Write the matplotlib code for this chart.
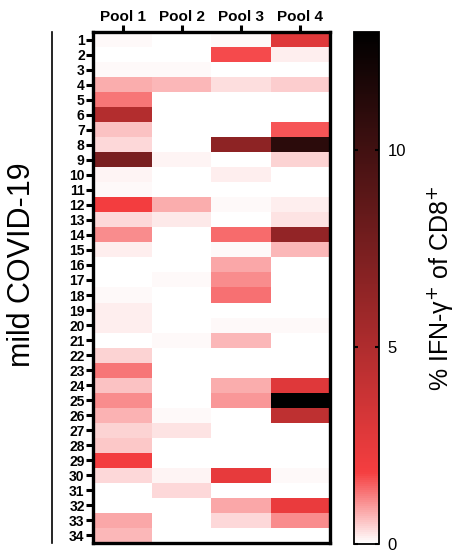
import numpy as np
import matplotlib
matplotlib.use("Agg")
import matplotlib.pyplot as plt
from matplotlib.colors import LinearSegmentedColormap
from matplotlib.lines import Line2D

plt.rcParams['font.family'] = ['Liberation Sans', 'DejaVu Sans']

pools = ["Pool 1", "Pool 2", "Pool 3", "Pool 4"]
donors = [str(i) for i in range(1, 35)]
pool1 = [0.1, 0.0, 0.1, 0.8, 1.3, 4.8, 0.6, 0.4, 7.4, 0.12, 0.1, 1.9, 0.4, 1.1, 0.2, 0.03, 0.0,
         0.07, 0.2, 0.2, 0.0, 0.45, 1.3, 0.6, 1.1, 0.75, 0.45, 0.55, 1.9, 0.4, 0.03, 0.0, 0.85, 0.7]
pool2 = [0.0, 0.0, 0.1, 0.7, 0.03, 0.0, 0.03, 0.02, 0.12, 0.0, 0.03, 0.8, 0.25, 0.02, 0.0, 0.0, 0.07,
         0.0, 0.0, 0.03, 0.07, 0.0, 0.0, 0.02, 0.0, 0.1, 0.3, 0.0, 0.0, 0.12, 0.4, 0.0, 0.03, 0.03]
pool3 = [0.08, 1.7, 0.05, 0.35, 0.0, 0.0, 0.03, 6.5, 0.02, 0.2, 0.05, 0.08, 0.0, 1.4, 0.1, 0.85, 1.1,
         1.35, 0.0, 0.1, 0.7, 0.0, 0.05, 0.8, 1.0, 0.0, 0.0, 0.0, 0.03, 2.4, 0.03, 0.85, 0.4, 0.0]
pool4 = [2.8, 0.2, 0.0, 0.5, 0.0, 0.0, 1.6, 11.0, 0.45, 0.0, 0.05, 0.2, 0.28, 6.3, 0.7, 0.0, 0.0,
         0.0, 0.0, 0.1, 0.0, 0.02, 0.0, 2.8, 13.0, 4.3, 0.0, 0.02, 0.0, 0.06, 0.0, 2.3, 1.1, 0.0]
cbar_ticks = [0, 5, 10]
vmax = 13.0

data = np.array([pool1, pool2, pool3, pool4]).T

W, H = 462, 555
fig = plt.figure(figsize=(W / 100, H / 100), dpi=100)

red_pos = 1.8 / vmax
cmap = LinearSegmentedColormap.from_list(
    "wrb", [(0.0, "#ffffff"), (red_pos, "#f53e40"), (1.0, "#000000")])

ax = fig.add_axes([93 / W, (H - 543) / H, (330 - 93) / W, (543 - 32) / H])
im = ax.imshow(data, cmap=cmap, vmin=0, vmax=vmax, aspect='auto', interpolation='nearest')
ax.set_xticks(range(len(pools)))
ax.set_xticklabels(pools, fontsize=11, fontweight='bold')
ax.xaxis.tick_top()
ax.set_yticks(range(len(donors)))
ax.set_yticklabels(donors, fontsize=10, fontweight='bold')
ax.tick_params(axis='x', length=5, width=2.2, pad=1)
ax.tick_params(axis='y', length=5, width=2.2, pad=1)
for s in ax.spines.values():
    s.set_linewidth(2.4)

cax = fig.add_axes([354 / W, (H - 544) / H, (379 - 354) / W, (544 - 32) / H])
cb = fig.colorbar(im, cax=cax)
cb.set_ticks(cbar_ticks)
cb.ax.tick_params(labelsize=12, length=3, width=1.5, direction='in', right=True, left=True, pad=6)
cb.outline.set_linewidth(1.3)
cb.set_label("% IFN-γ$^{+}$ of CD8$^{+}$", fontsize=18, labelpad=14)

fig.add_artist(Line2D([52 / W, 52 / W], [(H - 32) / H, (H - 543) / H], color='black', lw=1.2))
fig.text(22 / W, (H - 265) / H, "mild COVID-19", rotation=90, fontsize=22, ha='center', va='center')

fig.savefig("out.png", dpi=100)
